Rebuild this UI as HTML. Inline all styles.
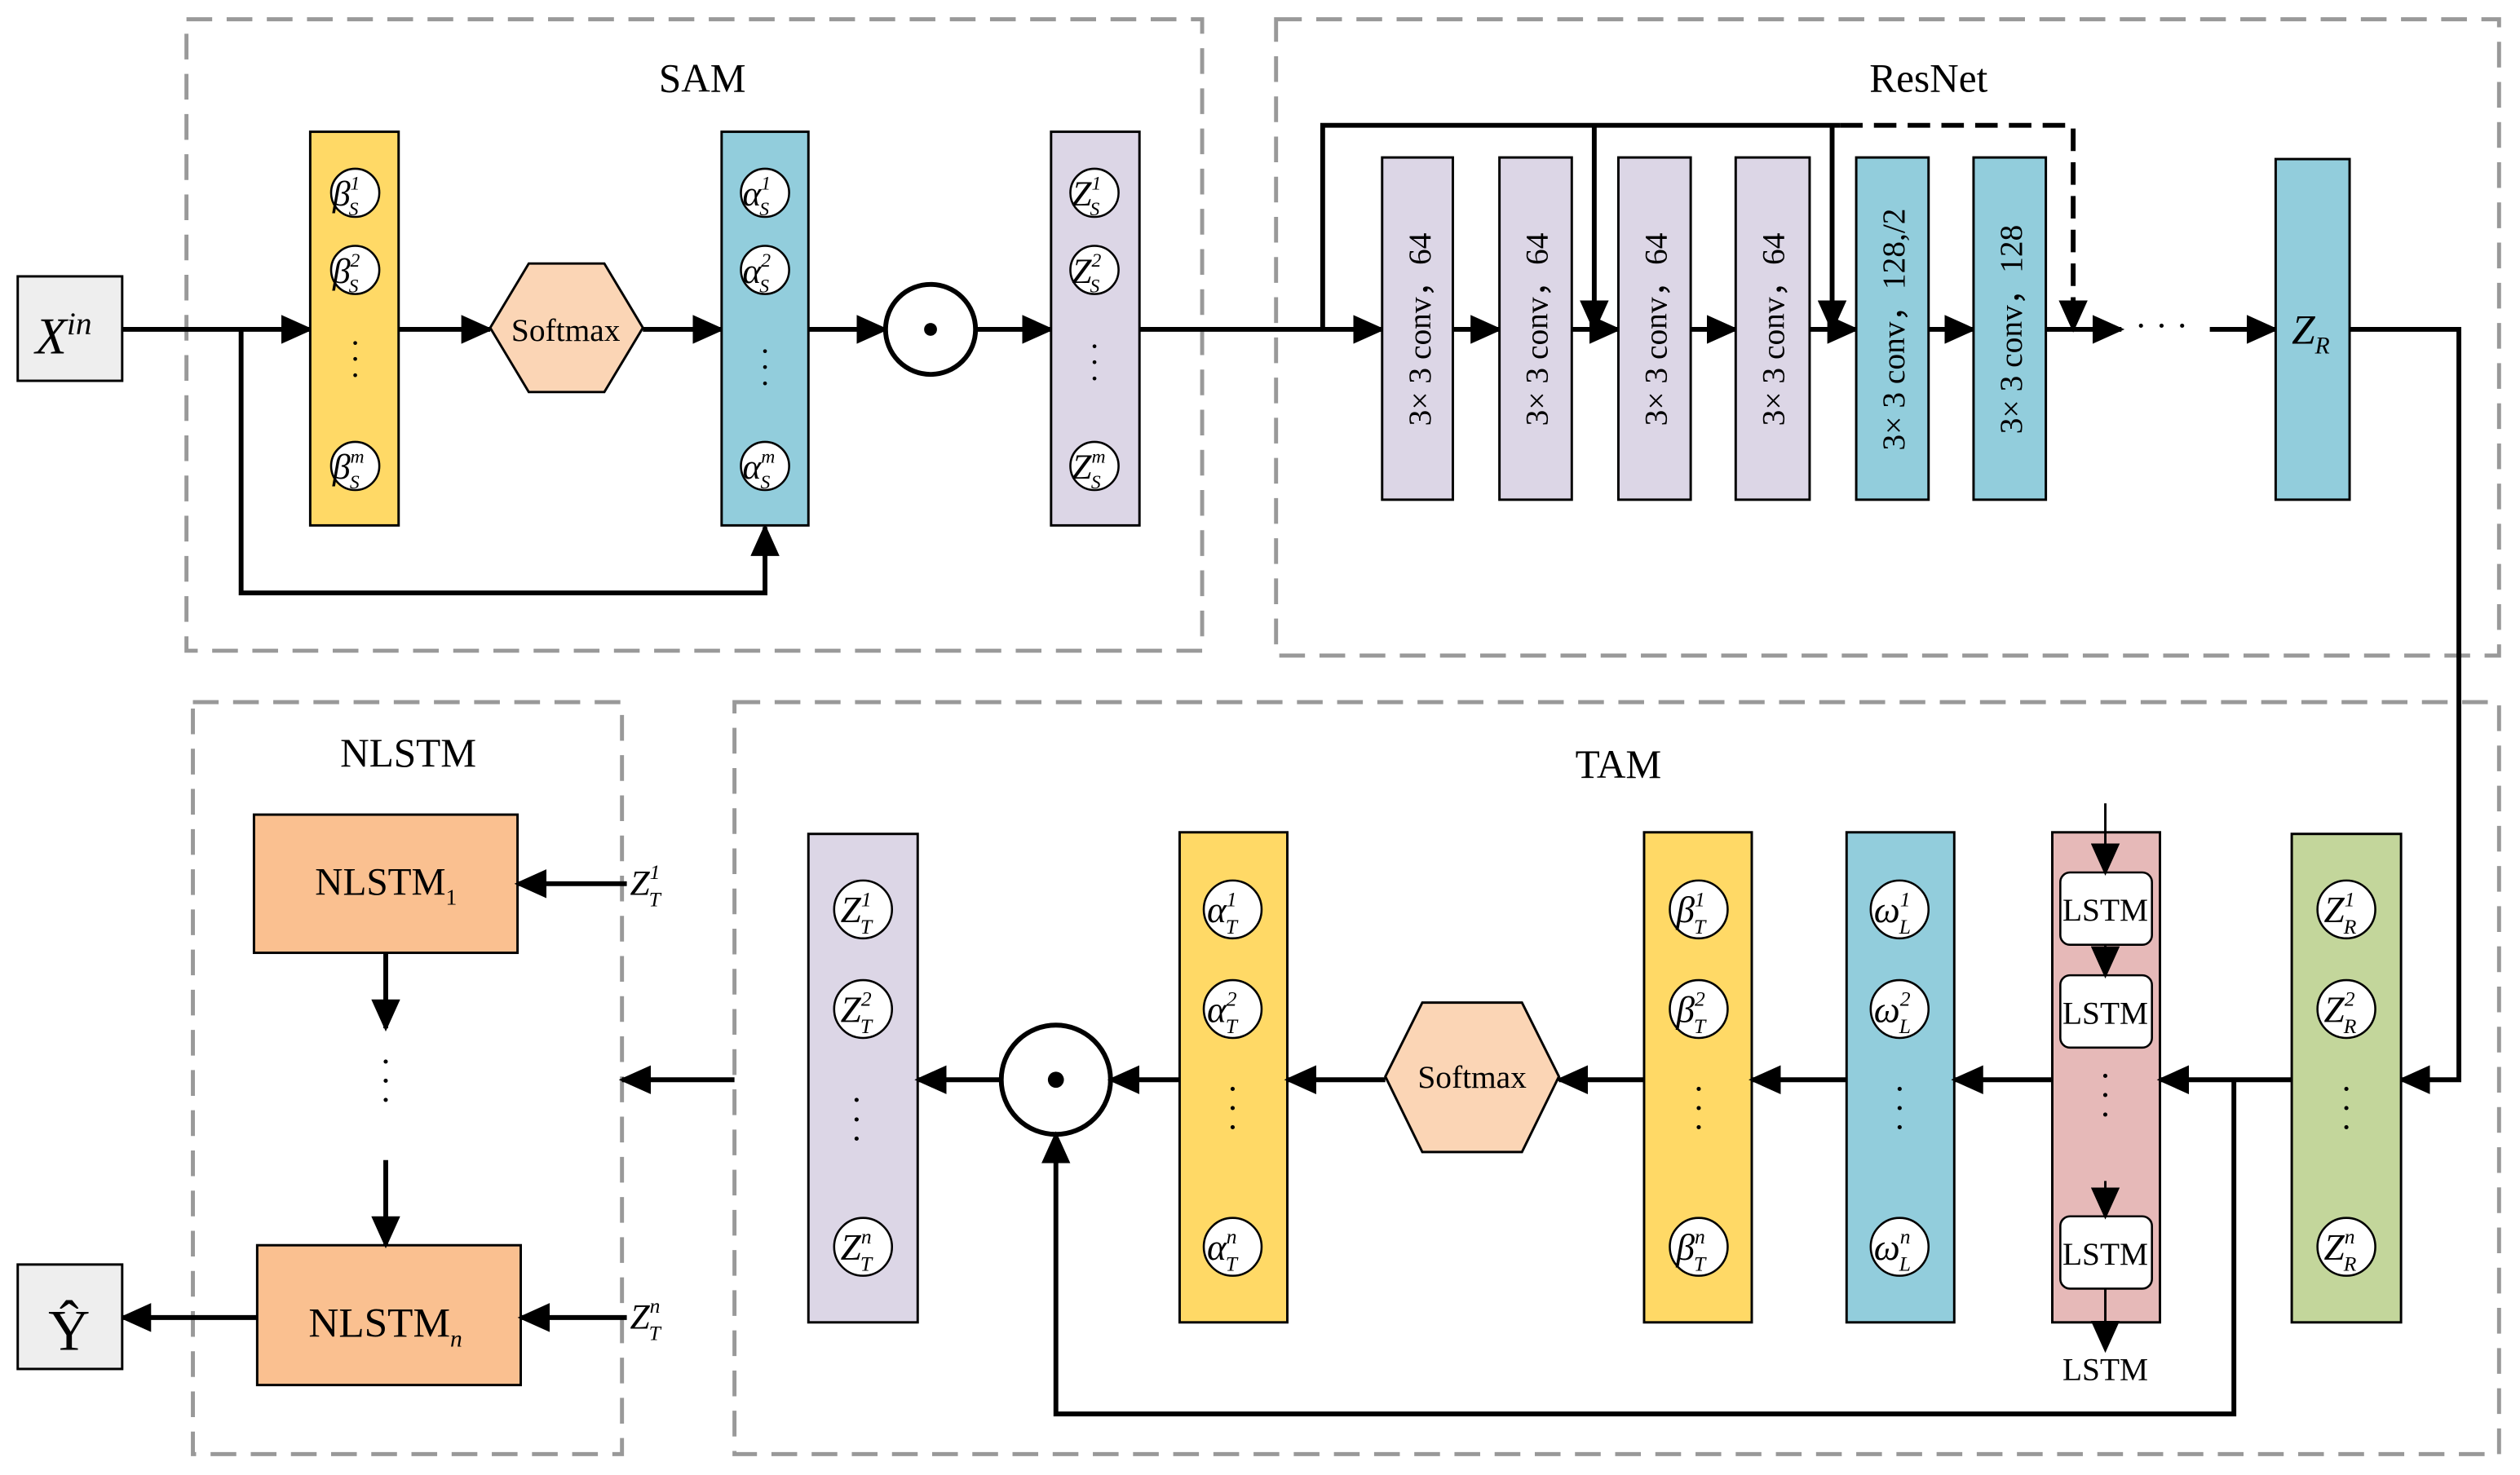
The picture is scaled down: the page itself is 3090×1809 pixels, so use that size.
<!DOCTYPE html>
<html><head><meta charset="utf-8"><style>
html,body{margin:0;padding:0;background:#fff;}
svg{display:block;}
text{font-family:"Liberation Serif",serif;fill:#000;}
</style></head><body>
<svg width="3090" height="1809" viewBox="0 0 1568 918" xmlns="http://www.w3.org/2000/svg">
<defs>
<marker id="a" markerUnits="userSpaceOnUse" markerWidth="20" markerHeight="18" refX="18" refY="9" orient="auto"><path d="M0,0 L20,9 L0,18 Z" fill="#000"/></marker>
</defs>
<rect width="1568" height="918" fill="#fff"/>
<!-- dashed group boxes -->
<g fill="none" stroke="#999" stroke-width="2.5" stroke-dasharray="16,9">
<rect x="116" y="12" width="632" height="393"/>
<rect x="794" y="12" width="761" height="396"/>
<rect x="120" y="437" width="267" height="468"/>
<rect x="457" y="437" width="1098" height="468"/>
</g>
<g font-size="25" text-anchor="middle">
<text x="437" y="57">SAM</text><text x="1200" y="57">ResNet</text>
<text x="254" y="477">NLSTM</text><text x="1007" y="484">TAM</text>
</g>

<!-- X in -->
<rect x="11" y="172" width="65" height="65" fill="#eee" stroke="#000" stroke-width="1.5"/>
<text x="22" y="220" font-size="32" font-style="italic">X<tspan font-size="20" dy="-12">in</tspan></text>
<g stroke="#000" stroke-width="3" fill="none">
<line x1="76" y1="205" x2="193" y2="205" marker-end="url(#a)"/>
<polyline points="150,205 150,369 476,369 476,328" marker-end="url(#a)"/>
<line x1="248" y1="205" x2="305" y2="205" marker-end="url(#a)"/>
<line x1="400" y1="205" x2="449" y2="205" marker-end="url(#a)"/>
<line x1="503" y1="205" x2="551" y2="205" marker-end="url(#a)"/>
<line x1="607" y1="205" x2="654" y2="205" marker-end="url(#a)"/>
<line x1="709" y1="205" x2="860" y2="205" marker-end="url(#a)"/>
<polyline points="823,205 823,78 1145,78"/>
<line x1="992" y1="78" x2="992" y2="205" marker-end="url(#a)"/>
<line x1="1140" y1="78" x2="1140" y2="205" marker-end="url(#a)"/>
<polyline points="1145,78 1290,78 1290,205" stroke-dasharray="14,7" marker-end="url(#a)"/>
<line x1="904" y1="205" x2="933" y2="205" marker-end="url(#a)"/>
<line x1="978" y1="205" x2="1007" y2="205" marker-end="url(#a)"/>
<line x1="1052" y1="205" x2="1080" y2="205" marker-end="url(#a)"/>
<line x1="1126" y1="205" x2="1155" y2="205" marker-end="url(#a)"/>
<line x1="1200" y1="205" x2="1228" y2="205" marker-end="url(#a)"/>
<line x1="1273" y1="205" x2="1320" y2="205" marker-end="url(#a)"/>
<line x1="1375" y1="205" x2="1416" y2="205" marker-end="url(#a)"/>
<polyline points="1462,205 1530,205 1530,672 1494,672" marker-end="url(#a)"/>
</g>
<text x="1345" y="210" font-size="22" text-anchor="middle">· · ·</text>

<!-- SAM columns -->
<rect x="193" y="82" width="55" height="245" fill="#FFD966" stroke="#000" stroke-width="1.5"/>
<rect x="449" y="82" width="54" height="245" fill="#92CDDC" stroke="#000" stroke-width="1.5"/>
<rect x="654" y="82" width="55" height="245" fill="#DCD6E6" stroke="#000" stroke-width="1.5"/>
<polygon points="305,204 329,164 376,164 400,204 376,244 329,244" fill="#FBD5B5" stroke="#000" stroke-width="1.5"/>
<text x="352" y="212" font-size="20" text-anchor="middle">Softmax</text>
<circle cx="579" cy="205" r="28" fill="#fff" stroke="#000" stroke-width="3"/>
<circle cx="579" cy="205" r="4" fill="#000"/>
<g fill="#fff" stroke="#000" stroke-width="1.3">
<circle cx="221" cy="120" r="15"/><circle cx="221" cy="168" r="15"/><circle cx="221" cy="290" r="15"/>
<circle cx="476" cy="120" r="15"/><circle cx="476" cy="168" r="15"/><circle cx="476" cy="290" r="15"/>
<circle cx="681" cy="120" r="15"/><circle cx="681" cy="168" r="15"/><circle cx="681" cy="290" r="15"/>
</g>
<g font-size="22" font-style="italic">
<text x="207" y="128">β<tspan font-size="12" dy="-10">1</tspan><tspan font-size="12" dx="-7" dy="16">S</tspan></text>
<text x="207" y="176">β<tspan font-size="12" dy="-10">2</tspan><tspan font-size="12" dx="-7" dy="16">S</tspan></text>
<text x="207" y="298">β<tspan font-size="12" dy="-10">m</tspan><tspan font-size="12" dx="-9" dy="16">S</tspan></text>
<text x="462" y="128">α<tspan font-size="12" dy="-10">1</tspan><tspan font-size="12" dx="-7" dy="16">S</tspan></text>
<text x="462" y="176">α<tspan font-size="12" dy="-10">2</tspan><tspan font-size="12" dx="-7" dy="16">S</tspan></text>
<text x="462" y="298">α<tspan font-size="12" dy="-10">m</tspan><tspan font-size="12" dx="-9" dy="16">S</tspan></text>
<text x="667" y="128">Z<tspan font-size="12" dy="-10">1</tspan><tspan font-size="12" dx="-7" dy="16">S</tspan></text>
<text x="667" y="176">Z<tspan font-size="12" dy="-10">2</tspan><tspan font-size="12" dx="-7" dy="16">S</tspan></text>
<text x="667" y="298">Z<tspan font-size="12" dy="-10">m</tspan><tspan font-size="12" dx="-9" dy="16">S</tspan></text>
</g>
<g font-size="20" text-anchor="middle">
<text x="221" y="220">·</text><text x="221" y="230">·</text><text x="221" y="240">·</text>
<text x="476" y="225">·</text><text x="476" y="235">·</text><text x="476" y="245">·</text>
<text x="681" y="222">·</text><text x="681" y="232">·</text><text x="681" y="242">·</text>
</g>

<!-- ResNet blocks -->
<g stroke="#000" stroke-width="1.5">
<rect x="860" y="98" width="44" height="213" fill="#DCD6E6"/>
<rect x="933" y="98" width="45" height="213" fill="#DCD6E6"/>
<rect x="1007" y="98" width="45" height="213" fill="#DCD6E6"/>
<rect x="1080" y="98" width="46" height="213" fill="#DCD6E6"/>
<rect x="1155" y="98" width="45" height="213" fill="#92CDDC"/>
<rect x="1228" y="98" width="45" height="213" fill="#92CDDC"/>
<rect x="1416" y="99" width="46" height="212" fill="#92CDDC"/>
</g>
<g font-size="20" text-anchor="middle">
<text transform="translate(890,205) rotate(-90)">3× 3 conv，64</text>
<text transform="translate(963,205) rotate(-90)">3× 3  conv，64</text>
<text transform="translate(1037,205) rotate(-90)">3× 3 conv，64</text>
<text transform="translate(1110,205) rotate(-90)">3× 3 conv，64</text>
<text transform="translate(1185,205) rotate(-90)">3× 3 conv，128,/2</text>
<text transform="translate(1258,205) rotate(-90)">3× 3 conv，128</text>
</g>
<text x="1426" y="214" font-size="26" font-style="italic">Z<tspan font-size="15" dy="6">R</tspan></text>

<!-- TAM -->
<g stroke="#000" stroke-width="1.5">
<rect x="1426" y="519" width="68" height="304" fill="#C3D69B"/>
<rect x="1277" y="518" width="67" height="305" fill="#E6B9B8"/>
<rect x="1149" y="518" width="67" height="305" fill="#92CDDC"/>
<rect x="1023" y="518" width="67" height="305" fill="#FFD966"/>
<rect x="734" y="518" width="67" height="305" fill="#FFD966"/>
<rect x="503" y="519" width="68" height="304" fill="#DCD6E6"/>
</g>
<g fill="#fff" stroke="#000" stroke-width="1.3">
<rect x="1282" y="543" width="57" height="45" rx="6"/>
<rect x="1282" y="607" width="57" height="45" rx="6"/>
<rect x="1282" y="757" width="57" height="45" rx="6"/>
</g>
<g font-size="20" text-anchor="middle">
<text x="1310" y="573">LSTM</text><text x="1310" y="637">LSTM</text><text x="1310" y="787">LSTM</text><text x="1310" y="859">LSTM</text>
</g>
<polygon points="862,670 885,624 947,624 970,670 947,717 885,717" fill="#FBD5B5" stroke="#000" stroke-width="1.5"/>
<text x="916" y="677" font-size="20" text-anchor="middle">Softmax</text>
<circle cx="657" cy="672" r="34" fill="#fff" stroke="#000" stroke-width="3"/>
<circle cx="657" cy="672" r="5" fill="#000"/>
<g stroke="#000" stroke-width="3" fill="none">
<line x1="1426" y1="672" x2="1344" y2="672" marker-end="url(#a)"/>
<polyline points="1390,672 1390,880 657,880 657,706" marker-end="url(#a)"/>
<line x1="1277" y1="672" x2="1216" y2="672" marker-end="url(#a)"/>
<line x1="1149" y1="672" x2="1090" y2="672" marker-end="url(#a)"/>
<line x1="1023" y1="672" x2="970" y2="672" marker-end="url(#a)"/>
<line x1="862" y1="672" x2="801" y2="672" marker-end="url(#a)"/>
<line x1="734" y1="672" x2="691" y2="672" marker-end="url(#a)"/>
<line x1="623" y1="672" x2="571" y2="672" marker-end="url(#a)"/>
<line x1="457" y1="672" x2="387" y2="672" marker-end="url(#a)"/>
</g>
<g stroke="#000" stroke-width="1.5" fill="none">
<line x1="1310" y1="500" x2="1310" y2="543" marker-end="url(#a)"/>
<line x1="1310" y1="588" x2="1310" y2="607" marker-end="url(#a)"/>
<line x1="1310" y1="735" x2="1310" y2="757" marker-end="url(#a)"/>
<line x1="1310" y1="802" x2="1310" y2="840" marker-end="url(#a)"/>
</g>
<g fill="#fff" stroke="#000" stroke-width="1.3">
<circle cx="1460" cy="566" r="18"/><circle cx="1460" cy="628" r="18"/><circle cx="1460" cy="776" r="18"/>
<circle cx="1182" cy="566" r="18"/><circle cx="1182" cy="628" r="18"/><circle cx="1182" cy="776" r="18"/>
<circle cx="1057" cy="566" r="18"/><circle cx="1057" cy="628" r="18"/><circle cx="1057" cy="776" r="18"/>
<circle cx="767" cy="566" r="18"/><circle cx="767" cy="628" r="18"/><circle cx="767" cy="776" r="18"/>
<circle cx="537" cy="566" r="18"/><circle cx="537" cy="628" r="18"/><circle cx="537" cy="776" r="18"/>
</g>
<g font-size="23" font-style="italic">
<text x="1446" y="574">Z<tspan font-size="13" dy="-10">1</tspan><tspan font-size="13" dx="-7" dy="17">R</tspan></text>
<text x="1446" y="636">Z<tspan font-size="13" dy="-10">2</tspan><tspan font-size="13" dx="-7" dy="17">R</tspan></text>
<text x="1446" y="784">Z<tspan font-size="13" dy="-10">n</tspan><tspan font-size="13" dx="-7" dy="17">R</tspan></text>
<text x="1166" y="574">ω<tspan font-size="13" dy="-10">1</tspan><tspan font-size="13" dx="-7" dy="17">L</tspan></text>
<text x="1166" y="636">ω<tspan font-size="13" dy="-10">2</tspan><tspan font-size="13" dx="-7" dy="17">L</tspan></text>
<text x="1166" y="784">ω<tspan font-size="13" dy="-10">n</tspan><tspan font-size="13" dx="-7" dy="17">L</tspan></text>
<text x="1043" y="574">β<tspan font-size="13" dy="-10">1</tspan><tspan font-size="13" dx="-7" dy="17">T</tspan></text>
<text x="1043" y="636">β<tspan font-size="13" dy="-10">2</tspan><tspan font-size="13" dx="-7" dy="17">T</tspan></text>
<text x="1043" y="784">β<tspan font-size="13" dy="-10">n</tspan><tspan font-size="13" dx="-7" dy="17">T</tspan></text>
<text x="751" y="574">α<tspan font-size="13" dy="-10">1</tspan><tspan font-size="13" dx="-7" dy="17">T</tspan></text>
<text x="751" y="636">α<tspan font-size="13" dy="-10">2</tspan><tspan font-size="13" dx="-7" dy="17">T</tspan></text>
<text x="751" y="784">α<tspan font-size="13" dy="-10">n</tspan><tspan font-size="13" dx="-7" dy="17">T</tspan></text>
<text x="523" y="574">Z<tspan font-size="13" dy="-10">1</tspan><tspan font-size="13" dx="-7" dy="17">T</tspan></text>
<text x="523" y="636">Z<tspan font-size="13" dy="-10">2</tspan><tspan font-size="13" dx="-7" dy="17">T</tspan></text>
<text x="523" y="784">Z<tspan font-size="13" dy="-10">n</tspan><tspan font-size="13" dx="-7" dy="17">T</tspan></text>
</g>
<g font-size="22" text-anchor="middle">
<text x="1460" y="685">·</text><text x="1460" y="697">·</text><text x="1460" y="709">·</text>
<text x="1310" y="677">·</text><text x="1310" y="689">·</text><text x="1310" y="701">·</text>
<text x="1182" y="685">·</text><text x="1182" y="697">·</text><text x="1182" y="709">·</text>
<text x="1057" y="685">·</text><text x="1057" y="697">·</text><text x="1057" y="709">·</text>
<text x="767" y="685">·</text><text x="767" y="697">·</text><text x="767" y="709">·</text>
<text x="533" y="692">·</text><text x="533" y="704">·</text><text x="533" y="716">·</text>
<text x="240" y="668">·</text><text x="240" y="680">·</text><text x="240" y="692">·</text>
</g>

<!-- NLSTM -->
<rect x="158" y="507" width="164" height="86" fill="#FAC090" stroke="#000" stroke-width="1.5"/>
<rect x="160" y="775" width="164" height="87" fill="#FAC090" stroke="#000" stroke-width="1.5"/>
<text x="196" y="557" font-size="24">NLSTM<tspan font-size="14" dy="6">1</tspan></text>
<text x="192" y="832" font-size="26">NLSTM<tspan font-size="15" dy="6" font-style="italic">n</tspan></text>
<g font-size="22" font-style="italic">
<text x="392" y="557">Z<tspan font-size="13" dy="-10">1</tspan><tspan font-size="13" dx="-7" dy="17">T</tspan></text>
<text x="392" y="827">Z<tspan font-size="13" dy="-10">n</tspan><tspan font-size="13" dx="-7" dy="17">T</tspan></text>
</g>
<g stroke="#000" stroke-width="3" fill="none">
<line x1="390" y1="550" x2="322" y2="550" marker-end="url(#a)"/>
<line x1="390" y1="820" x2="324" y2="820" marker-end="url(#a)"/>
<line x1="240" y1="593" x2="240" y2="640" marker-end="url(#a)"/>
<line x1="240" y1="722" x2="240" y2="775" marker-end="url(#a)"/>
<line x1="160" y1="820" x2="76" y2="820" marker-end="url(#a)"/>
</g>
<rect x="11" y="787" width="65" height="65" fill="#eee" stroke="#000" stroke-width="1.5"/>
<text x="43" y="840" font-size="36" text-anchor="middle">Ŷ</text>
</svg>
</body></html>
